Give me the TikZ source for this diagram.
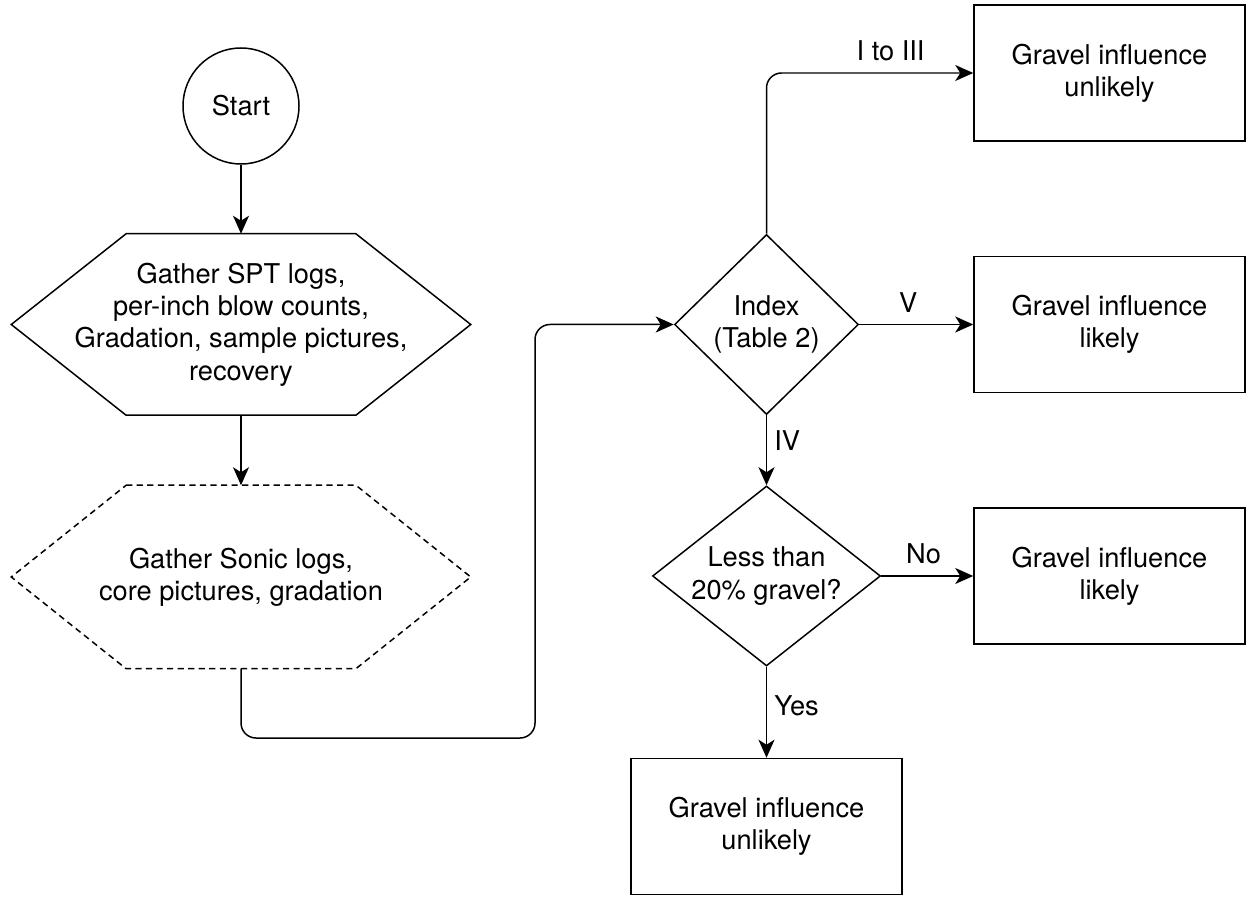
\documentclass[tikz,border=0pt]{standalone}
\usepackage{fontspec}
\setmainfont{TeX Gyre Heros}
\usetikzlibrary{shapes.geometric, arrows.meta, positioning, calc}

\begin{document}
\begin{tikzpicture}[
    font=\fontsize{15.5}{18.4}\selectfont,
    line width=0.85pt,
    startnode/.style={circle, draw, minimum size=2.32cm, inner sep=0pt},
    hexbox/.style={rectangle, minimum width=9.16cm, minimum height=3.6cm, align=center, inner sep=0pt},
    decision/.style={diamond, draw, align=center, inner sep=0pt},
    result/.style={rectangle, draw, align=center, minimum width=5.42cm, minimum height=2.72cm},
    arrow/.style={-{Stealth[length=0.36cm, width=0.32cm, inset=0.1cm]}, rounded corners=0.3cm},
    lbl/.style={inner sep=2pt}
]
    \useasboundingbox (0,0) rectangle (24.94,-17.96);

    \node [startnode] (start) at (4.82,-2.12) {Start};
    \node [hexbox, below=1.38cm of start] (gather) {Gather SPT logs,\\per-inch blow counts,\\Gradation, sample pictures,\\recovery};
    \node [hexbox, below=1.4cm of gather, minimum height=3.64cm] (sonic) {Gather Sonic logs,\\core pictures, gradation};
    \node [decision, right=4.06cm of gather, minimum width=3.68cm, minimum height=3.6cm] (index) {Index\\(Table 2)};
    \node [decision, below=1.4cm of index, aspect=1.27, minimum width=4.56cm, minimum height=3.6cm] (gravel) {Less than\\20\% gravel?};
    \node [result, right=2.28cm of index] (likely1) {Gravel influence\\likely};
    \node [result, above=2.28cm of likely1] (unlikely1) {Gravel influence\\unlikely};
    \node [result, right=1.84cm of gravel] (likely2) {Gravel influence\\likely};
    \node [result, below=1.82cm of gravel] (unlikely2) {Gravel influence\\unlikely};
    \coordinate (detour) at (10.7,-14.76);

    % hexagon outlines
    \draw ($(gather.north west)!.25!(gather.north east)$) -- ($(gather.north west)!.75!(gather.north east)$) -- (gather.east) -- ($(gather.south west)!.75!(gather.south east)$) -- ($(gather.south west)!.25!(gather.south east)$) -- (gather.west) -- cycle;
    \draw [dash pattern=on 3.5pt off 2.5pt] ($(sonic.north west)!.25!(sonic.north east)$) -- ($(sonic.north west)!.75!(sonic.north east)$) -- (sonic.east) -- ($(sonic.south west)!.75!(sonic.south east)$) -- ($(sonic.south west)!.25!(sonic.south east)$) -- (sonic.west) -- cycle;

    \draw [arrow] (start) -- (gather);
    \draw [arrow] (gather) -- (sonic);
    \draw [arrow] (sonic.south) |- (detour) |- (index.west);
    \draw [arrow] (index.north) |- node[lbl, pos=0.8, above=4.5pt] {I to III} (unlikely1.west);
    \draw [arrow] (index) -- node[lbl, pos=0.43, above=4.5pt] {V} (likely1);
    \draw [arrow] (index) -- node[lbl, pos=0.36, right=2pt] {IV} (gravel);
    \draw [arrow] (gravel) -- node[lbl, pos=0.46, above=4.5pt] {No} (likely2);
    \draw [arrow] (gravel) -- node[lbl, pos=0.43, right=2pt] {Yes} (unlikely2);

\end{tikzpicture}
\end{document}
